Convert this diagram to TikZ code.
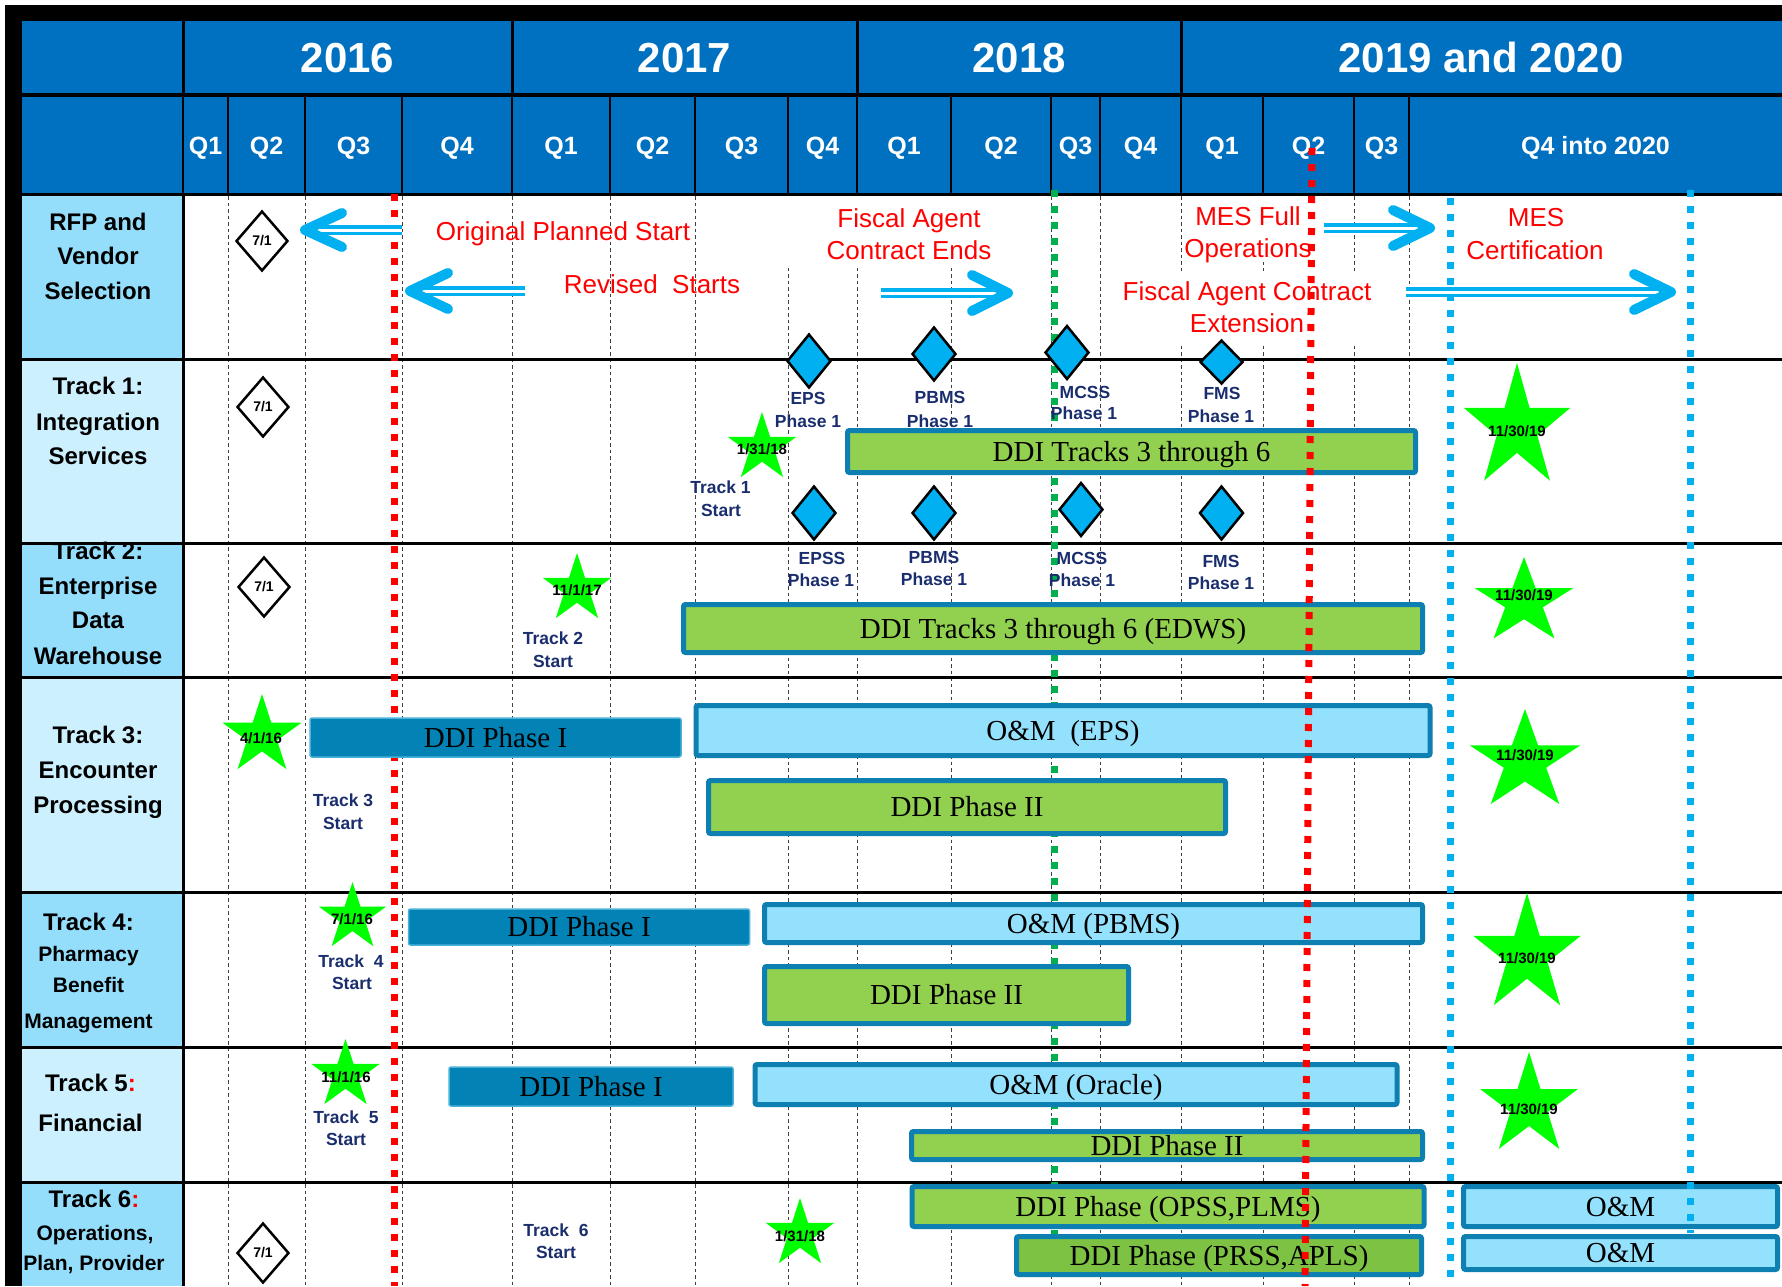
\documentclass[tikz,border=0pt]{standalone}
\usepackage{fontspec}
\setmainfont{Liberation Serif}
\setsansfont{Liberation Sans}
\usetikzlibrary{shapes.geometric}
\definecolor{hdr}{RGB}{0,112,192}
\definecolor{leftA}{RGB}{148,222,252}
\definecolor{leftB}{RGB}{204,240,253}
\definecolor{barb}{RGB}{14,127,177}
\definecolor{bardark}{RGB}{2,130,181}
\definecolor{bargreen}{RGB}{146,208,80}
\definecolor{bargreenB}{RGB}{125,194,66}
\definecolor{barlight}{RGB}{147,225,253}
\definecolor{cyanc}{RGB}{0,176,240}
\definecolor{navy}{RGB}{26,46,110}
\definecolor{lgreen}{RGB}{0,176,80}
\definecolor{stargreen}{RGB}{0,255,0}
\begin{document}
\begin{tikzpicture}[x=1pt, y=-1pt,
  yearlab/.style={font=\sffamily\bfseries\fontsize{42}{48}\selectfont, text=white, inner sep=0pt, text height=30pt, text depth=0pt},
  qlab/.style={font=\sffamily\bfseries\fontsize{25}{30}\selectfont, text=white, inner sep=0pt, text height=18pt, text depth=0pt},
  leftlab/.style={font=\sffamily\bfseries\fontsize{24}{28}\selectfont, inner sep=0pt, text height=17.2pt, text depth=0pt},
  leftsm/.style={font=\sffamily\bfseries\fontsize{21}{25}\selectfont, inner sep=0pt, text height=15pt, text depth=0pt},
  redlab/.style={font=\sffamily\fontsize{26}{30}\selectfont, text=red, inner sep=0pt, text height=18.6pt, text depth=0pt},
  navylab/.style={font=\sffamily\bfseries\fontsize{17.5}{21}\selectfont, text=navy, inner sep=0pt, text height=12.5pt, text depth=0pt},
  datelab/.style={font=\sffamily\bfseries\fontsize{15}{18}\selectfont, inner sep=0pt, text height=10.7pt, text depth=0pt},
  bar/.style={rectangle, rounded corners=2pt, inner sep=0pt, font=\fontsize{29}{33}\selectfont, text height=19.2pt, text depth=0pt},
  bargr/.style={bar, fill=bargreen, draw=barb, line width=5pt},
  bargrB/.style={bar, fill=bargreenB, draw=barb, line width=5pt},
  barlt/.style={bar, fill=barlight, draw=barb, line width=5pt},
  bardk/.style={bar, fill=bardark, draw=barlight!50!bardark, line width=1.5pt},
  wdia/.style={diamond, draw=black, line width=2.5pt, fill=white, inner sep=0pt, minimum width=52pt, minimum height=60pt, font=\sffamily\bfseries\fontsize{14}{16}\selectfont},
  cdia/.style={diamond, draw=black, line width=2.5pt, fill=cyanc, inner sep=0pt, minimum width=44pt, minimum height=54pt},
  gstar/.style={star, star points=5, star point ratio=2.618, fill=stargreen, draw=none, inner sep=0pt},
  wbox/.style={rectangle, fill=white, draw=none, inner sep=0pt},
  gridl/.style={draw=black!75, line width=0.9pt, dash pattern=on 3.5pt off 3pt},
  redl/.style={draw=red, line width=7pt, dash pattern=on 7pt off 9pt},
  greenl/.style={draw=lgreen, line width=7pt, dash pattern=on 7pt off 9pt},
  cyanl/.style={draw=cyanc, line width=7pt, dash pattern=on 7pt off 9pt},
  shaft/.style={draw=cyanc, line width=3.3pt, double=white, double distance=3pt},
  chev/.style={draw=cyanc, line width=10pt, line cap=round, line join=round}
]
\useasboundingbox (0,0) rectangle (1782,1286);
\fill[white] (0,0) rectangle (1782,1286);
% header
\fill[hdr] (22,21) rectangle (1782,194);
\fill[black] (5,5) rectangle (1782,21);
\fill[black] (5,5) rectangle (22,1286);
\draw[line width=3.5pt] (22,95) -- (1782,95);
\foreach \x in {183,512,857,1181} \draw[line width=3pt] (\x,21) -- (\x,95);
\foreach \x in {183,228,305,402,512,610,695,788,857,951,1051,1100,1181,1263,1354,1409} \draw[line width=2.5pt] (\x,95) -- (\x,194);
\draw[line width=3.5pt] (22,194.5) -- (1782,194.5);
\node[yearlab] (y16) at (347.5,57) {2016};
\node[yearlab] (y17) at (684.5,57) {2017};
\node[yearlab] (y18) at (1019,57) {2018};
\node[yearlab] (y19) at (1481,57) {2019 and 2020};
\node[qlab] (q1) at (205.5,145) {Q1};
\node[qlab] (q2) at (266.5,145) {Q2};
\node[qlab] (q3) at (353.5,145) {Q3};
\node[qlab] (q4) at (457,145) {Q4};
\node[qlab] (q5) at (561,145) {Q1};
\node[qlab] (q6) at (652.5,145) {Q2};
\node[qlab] (q7) at (741.5,145) {Q3};
\node[qlab] (q8) at (822.5,145) {Q4};
\node[qlab] (q9) at (904,145) {Q1};
\node[qlab] (q10) at (1001,145) {Q2};
\node[qlab] (q11) at (1075.5,145) {Q3};
\node[qlab] (q12) at (1140.5,145) {Q4};
\node[qlab] (q13) at (1222,145) {Q1};
\node[qlab] (q14) at (1308.5,145) {Q2};
\node[qlab] (q15) at (1381.5,145) {Q3};
\node[qlab] (q16) at (1595.5,145) {Q4 into 2020};
% left column
\fill[leftA] (22,196) rectangle (183,359);
\fill[leftB] (22,359) rectangle (183,543);
\fill[leftA] (22,543) rectangle (183,677);
\fill[leftB] (22,677) rectangle (183,892);
\fill[leftA] (22,892) rectangle (183,1047);
\fill[leftB] (22,1047) rectangle (183,1182);
\fill[leftA] (22,1182) rectangle (183,1286);
% grid
\foreach \x in {228,305,402,512,610,695,788,857,951,1051,1100,1181,1263,1354,1409} \draw[gridl] (\x,196) -- (\x,1286);
% left labels
\node[leftlab] (l0a) at (98,222) {RFP and};
\node[leftlab] (l0b) at (98,256) {Vendor};
\node[leftlab] (l0c) at (98,291) {Selection};
\node[leftlab] (l1a) at (98,386) {Track 1:};
\node[leftlab] (l1b) at (98,422) {Integration};
\node[leftlab] (l1c) at (98,456) {Services};
\node[leftlab] (l2a) at (98,551) {Track 2:};
\node[leftlab] (l2b) at (98,586) {Enterprise};
\node[leftlab] (l2c) at (98,620) {Data};
\node[leftlab] (l2d) at (98,656) {Warehouse};
\node[leftlab] (l3a) at (98,735) {Track 3:};
\node[leftlab] (l3b) at (98,770) {Encounter};
\node[leftlab] (l3c) at (98,805) {Processing};
\node[leftlab] (l4a) at (88.5,922) {Track 4:};
\node[leftsm] (l4b) at (88.5,954) {Pharmacy};
\node[leftsm] (l4c) at (88.5,985) {Benefit};
\node[leftsm] (l4d) at (88.5,1021) {Management};
\node[leftlab] (l5a) at (90.5,1083) {Track 5\textcolor{red}{:}};
\node[leftlab] (l5b) at (90.5,1123) {Financial};
\node[leftlab] (l6a) at (94,1199) {Track 6\textcolor{red}{:}};
\node[leftsm] (l6b) at (95,1233) {Operations,};
\node[leftsm] (l6c) at (94,1263) {Plan, Provider};
% row separators
\foreach \y in {359,543,677,892,1047,1182} \draw[line width=3pt] (22,\y) -- (1782,\y);
\draw[line width=3pt] (183,194) -- (183,1286);
% white boxes behind red text
\node[wbox, minimum width=280pt, minimum height=72pt] (wb1) at (905,232) {};
\node[wbox, minimum width=152pt, minimum height=66pt] (wb2) at (1264,229) {};
\node[wbox, minimum width=292pt, minimum height=73pt] (wb3) at (1254,308.5) {};
% red texts
\node[redlab] (r1) at (563,231) {Original Planned Start};
\node[redlab] (r2) at (652,284) {Revised\ \ Starts};
\node[redlab] (r3a) at (909,218) {Fiscal Agent};
\node[redlab] (r3b) at (909,250) {Contract Ends};
\node[redlab] (r4a) at (1248,216) {MES Full};
\node[redlab] (r4b) at (1248,248) {Operations};
\node[redlab] (r5a) at (1247,291) {Fiscal Agent Contract};
\node[redlab] (r5b) at (1247,323) {Extension};
\node[redlab] (r6a) at (1536,217) {MES};
\node[redlab] (r6b) at (1535,250) {Certification};
% left red and green lines (under bars)
\coordinate (redAtop) at (394,194);
\coordinate (redAbot) at (394,1286);
\draw[redl] (redAtop) -- (redAbot);
\coordinate (grtop) at (1054,190);
\coordinate (grbot) at (1054,1240);
\draw[greenl] (grtop) -- (grbot);
% arrows
\coordinate (a1tail) at (402,230); \coordinate (a1end) at (316,230);
\coordinate (a1tip) at (305,230); \coordinate (a1u) at (342,213); \coordinate (a1d) at (342,247);
\draw[shaft] (a1tail) -- (a1end);
\draw[chev] (a1u) -- (a1tip) -- (a1d);
\coordinate (a2tail) at (525,291); \coordinate (a2end) at (421,291);
\coordinate (a2tip) at (410,291); \coordinate (a2u) at (448,273); \coordinate (a2d) at (448,309);
\draw[shaft] (a2tail) -- (a2end);
\draw[chev] (a2u) -- (a2tip) -- (a2d);
\coordinate (a3tail) at (881,293); \coordinate (a3end) at (998,293);
\coordinate (a3tip) at (1008,293); \coordinate (a3u) at (972,275); \coordinate (a3d) at (972,311);
\draw[shaft] (a3tail) -- (a3end);
\draw[chev] (a3u) -- (a3tip) -- (a3d);
\coordinate (a4tail) at (1324,228); \coordinate (a4end) at (1420,228);
\coordinate (a4tip) at (1430,228); \coordinate (a4u) at (1393,210); \coordinate (a4d) at (1393,246);
\draw[shaft] (a4tail) -- (a4end);
\draw[chev] (a4u) -- (a4tip) -- (a4d);
\coordinate (a5tail) at (1406,292); \coordinate (a5end) at (1661,292);
\coordinate (a5tip) at (1671,292); \coordinate (a5u) at (1634,274); \coordinate (a5d) at (1634,310);
\draw[shaft] (a5tail) -- (a5end);
\draw[chev] (a5u) -- (a5tip) -- (a5d);
% white diamonds
\node[wdia] (d0) at (262,241) {7/1};
\node[wdia] (d1) at (263,407) {7/1};
\node[wdia] (d2) at (264,587) {7/1};
\node[wdia] (d6) at (263,1253) {7/1};
% cyan diamonds
\node[cdia] (cu1) at (809,361) {};
\node[cdia] (cu2) at (934,354) {};
\node[cdia] (cu3) at (1067,352.5) {};
\node[cdia, minimum width=43pt, minimum height=44pt] (cu4) at (1221.5,362) {};
\node[cdia] (cl1) at (814,513) {};
\node[cdia] (cl2) at (934,513) {};
\node[cdia] (cl3) at (1081,509.5) {};
\node[cdia] (cl4) at (1221.5,513) {};
% navy labels
\node[navylab] (n1a) at (808,398) {EPS};
\node[navylab] (n1b) at (808,421) {Phase 1};
\node[navylab] (n2a) at (940,397) {PBMS};
\node[navylab] (n2b) at (940,421) {Phase 1};
\node[navylab] (n3a) at (1085,392) {MCSS};
\node[navylab] (n3b) at (1084,413) {Phase 1};
\node[navylab] (n4a) at (1222,393) {FMS};
\node[navylab] (n4b) at (1221,416) {Phase 1};
\node[navylab] (n5a) at (822,558) {EPSS};
\node[navylab] (n5b) at (821,580) {Phase 1};
\node[navylab] (n6a) at (934,557) {PBMS};
\node[navylab] (n6b) at (934,579) {Phase 1};
\node[navylab] (n7a) at (1082,558) {MCSS};
\node[navylab] (n7b) at (1082,580) {Phase 1};
\node[navylab] (n8a) at (1221,561) {FMS};
\node[navylab] (n8b) at (1221,583) {Phase 1};
\node[navylab] (t1a) at (720.5,487) {Track 1};
\node[navylab] (t1b) at (721,510) {Start};
\node[navylab] (t2a) at (553,638) {Track 2};
\node[navylab] (t2b) at (553,661) {Start};
\node[navylab] (t3a) at (343,800) {Track 3};
\node[navylab] (t3b) at (343,823) {Start};
\node[navylab] (t4a) at (351,961) {Track\ \ 4};
\node[navylab] (t4b) at (352,983) {Start};
\node[navylab] (t5a) at (346,1117) {Track\ \ 5};
\node[navylab] (t5b) at (346,1139) {Start};
\node[navylab] (t6a) at (556,1230) {Track\ \ 6};
\node[navylab] (t6b) at (556,1252) {Start};
% small stars
\node[gstar, minimum size=72pt] (s1) at (762,448) {};
\node[datelab] (s1t) at (762,449) {1/31/18};
\node[gstar, minimum size=72pt] (s2) at (577,589) {};
\node[datelab] (s2t) at (577,590) {11/1/17};
\node[gstar, minimum size=83pt] (s3) at (262,735.5) {};
\node[datelab] (s3t) at (261,738) {4/1/16};
\node[gstar, minimum size=71pt] (s4) at (352.5,917.5) {};
\node[datelab] (s4t) at (352,919) {7/1/16};
\node[gstar, minimum size=72pt] (s5) at (345.5,1075) {};
\node[datelab] (s5t) at (346,1077) {11/1/16};
\node[gstar, minimum size=72pt] (s6) at (800,1234) {};
\node[datelab] (s6t) at (800,1236) {1/31/18};
% big stars
\begin{scope}[shift={(1517,428)}, xscale=0.86]
\node[gstar, minimum size=130pt, transform shape] (b1) at (0,0) {};
\end{scope}
\node[datelab] (b1t) at (1517,431) {11/30/19};
\begin{scope}[shift={(1524,602)}, xscale=1.15]
\node[gstar, minimum size=90pt, transform shape] (b2) at (0,0) {};
\end{scope}
\node[datelab] (b2t) at (1524,595) {11/30/19};
\begin{scope}[shift={(1525,761.5)}, xscale=1.11]
\node[gstar, minimum size=105pt, transform shape] (b3) at (0,0) {};
\end{scope}
\node[datelab] (b3t) at (1525,755) {11/30/19};
\begin{scope}[shift={(1527,955)}, xscale=0.91]
\node[gstar, minimum size=124pt, transform shape] (b4) at (0,0) {};
\end{scope}
\node[datelab] (b4t) at (1527,958) {11/30/19};
\begin{scope}[shift={(1529,1105.6)}, xscale=0.96]
\node[gstar, minimum size=107pt, transform shape] (b5) at (0,0) {};
\end{scope}
\node[datelab] (b5t) at (1529,1109) {11/30/19};
% bars
\node[bargr, minimum width=568pt, minimum height=42pt] (t1g) at (1131.5,451.5) {DDI Tracks 3 through 6};
\node[bargr, minimum width=739pt, minimum height=48pt] (t2g) at (1053,628.5) {DDI Tracks 3 through 6 (EDWS)};
\node[bardk, minimum width=371pt, minimum height=39pt] (t3d) at (495.5,737.5) {DDI Phase I};
\node[barlt, minimum width=734pt, minimum height=50pt] (t3l) at (1063,730.5) {O\&M\ \ (EPS)};
\node[bargr, minimum width=517pt, minimum height=53pt] (t3g) at (967,807) {DDI Phase II};
\node[bardk, minimum width=341pt, minimum height=36pt] (t4d) at (579,927) {DDI Phase I};
\node[barlt, minimum width=658pt, minimum height=38pt] (t4l) at (1093.5,923.5) {O\&M (PBMS)};
\node[bargr, minimum width=364pt, minimum height=57pt] (t4g) at (946.5,995) {DDI Phase II};
\node[bardk, minimum width=284pt, minimum height=39pt] (t5d) at (591,1086.5) {DDI Phase I};
\node[barlt, minimum width=642pt, minimum height=40pt] (t5l) at (1076,1084.5) {O\&M (Oracle)};
\node[bargr, minimum width=511pt, minimum height=28pt] (t5g) at (1167,1145.5) {DDI Phase II};
\node[bargr, minimum width=512pt, minimum height=40pt] (t6g1) at (1168,1206.5) {DDI Phase (OPSS,PLMS)};
\node[bargrB, minimum width=405pt, minimum height=38pt] (t6g2) at (1219,1255.5) {DDI Phase (PRSS,APLS)};
\node[barlt, minimum width=314pt, minimum height=40pt] (t6l1) at (1620.5,1206.5) {O\&M};
\node[barlt, minimum width=314pt, minimum height=33pt] (t6l2) at (1620.5,1253) {O\&M};
% right red and cyan lines (over bars)
\coordinate (redBtop) at (1312,148);
\coordinate (redBbot) at (1305,1286);
\draw[redl] (redBtop) -- (redBbot);
\coordinate (cy1top) at (1450,198);
\coordinate (cy1bot) at (1450,1282);
\draw[cyanl] (cy1top) -- (cy1bot);
\coordinate (cy2top) at (1690,190);
\coordinate (cy2bot) at (1690,1233);
\draw[cyanl] (cy2top) -- (cy2bot);
\end{tikzpicture}
\end{document}
